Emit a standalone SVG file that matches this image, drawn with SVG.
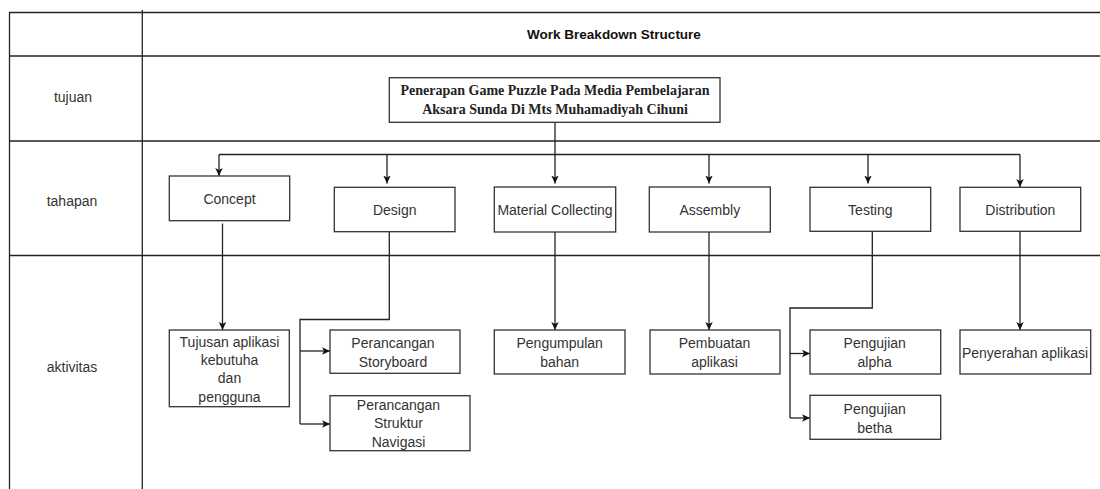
<svg xmlns="http://www.w3.org/2000/svg" width="1100" height="489" viewBox="0 0 1100 489">
<style>
.grid{stroke:#222;stroke-width:1.3;fill:none}
.box{fill:#fff;stroke:#333;stroke-width:1.3}
.lbl{font-family:"Liberation Sans",Arial,sans-serif;font-size:14px;fill:#333;text-anchor:middle;dominant-baseline:central}
.ttl{font-family:"Liberation Sans",Arial,sans-serif;font-size:13.5px;font-weight:bold;fill:#111;text-anchor:middle;dominant-baseline:central}
.main{font-family:"Liberation Serif","Times New Roman",serif;font-size:14px;font-weight:bold;fill:#222;text-anchor:middle;dominant-baseline:central}
.con{stroke:#222;stroke-width:1.3;fill:none}
.arr{stroke:#222;stroke-width:1.3;fill:none;marker-end:url(#ah)}
</style>
<defs>
<marker id="ah" markerUnits="userSpaceOnUse" markerWidth="10" markerHeight="9" refX="8" refY="4.5" orient="auto">
<path d="M0,0.8 L8,4.5 L0,8.2 L2,4.5 Z" fill="#111"/>
</marker>
</defs>
<rect width="1100" height="489" fill="#fff"/>
<g id="table">
<line class="grid" x1="9" y1="12.5" x2="1100" y2="12.5"/>
<line class="grid" x1="9" y1="56" x2="1100" y2="56"/>
<line class="grid" x1="9" y1="141" x2="1100" y2="141"/>
<line class="grid" x1="9" y1="255.5" x2="1100" y2="255.5"/>
<line class="grid" x1="9.5" y1="12.5" x2="9.5" y2="489"/>
<line class="grid" x1="142.3" y1="10" x2="142.3" y2="489"/>
<text class="ttl" x="614" y="34.5">Work Breakdown Structure</text>
<text class="lbl" x="73" y="96.5">tujuan</text>
<text class="lbl" x="72" y="201">tahapan</text>
<text class="lbl" x="72" y="367">aktivitas</text>
</g>
<g id="connectors">
<line class="con" x1="555" y1="122" x2="555" y2="154.5"/>
<line class="con" x1="219" y1="154.5" x2="1020" y2="154.5"/>
<line class="arr" x1="219" y1="154.5" x2="219" y2="176"/>
<line class="arr" x1="387" y1="154.5" x2="387" y2="183.5"/>
<line class="arr" x1="555" y1="154.5" x2="555" y2="183.5"/>
<line class="arr" x1="709" y1="154.5" x2="709" y2="183.5"/>
<line class="arr" x1="868" y1="154.5" x2="868" y2="183.5"/>
<line class="arr" x1="1020" y1="154.5" x2="1020" y2="187"/>
<line class="arr" x1="222.5" y1="223.5" x2="222.5" y2="330"/>
<polyline class="con" points="389.3,232 389.3,319.5 300,319.5 300,424"/>
<line class="arr" x1="300" y1="351" x2="330" y2="351"/>
<line class="arr" x1="300" y1="424" x2="330" y2="424"/>
<line class="arr" x1="555" y1="232" x2="555" y2="330"/>
<line class="arr" x1="709" y1="232" x2="709" y2="330"/>
<polyline class="con" points="872.3,231 872.3,308 790,308 790,418"/>
<line class="arr" x1="790" y1="353.5" x2="810" y2="353.5"/>
<line class="arr" x1="790" y1="418" x2="810" y2="418"/>
<line class="arr" x1="1020" y1="231" x2="1020" y2="330"/>
</g>
<g id="n-main">
<rect class="box" x="389.3" y="77.7" width="330.7" height="44.6"/>
<text class="main" x="555" y="90.7">Penerapan Game Puzzle Pada Media Pembelajaran</text>
<text class="main" x="555" y="109.3">Aksara Sunda Di Mts Muhamadiyah Cihuni</text>
</g>
<g id="n-concept">
<rect class="box" x="169.3" y="176" width="120.4" height="44.7"/>
<text class="lbl" x="229.5" y="198.5">Concept</text>
</g>
<g id="n-design">
<rect class="box" x="334.3" y="187.3" width="120.7" height="44.4"/>
<text class="lbl" x="394.7" y="209.7">Design</text>
</g>
<g id="n-material">
<rect class="box" x="494.3" y="187" width="121.4" height="45"/>
<text class="lbl" x="555" y="209.7">Material Collecting</text>
</g>
<g id="n-assembly">
<rect class="box" x="649.3" y="187" width="121" height="45"/>
<text class="lbl" x="709.8" y="209.7">Assembly</text>
</g>
<g id="n-testing">
<rect class="box" x="810" y="187.3" width="120.7" height="44"/>
<text class="lbl" x="870.3" y="209.5">Testing</text>
</g>
<g id="n-distribution">
<rect class="box" x="960" y="187.3" width="120.7" height="44"/>
<text class="lbl" x="1020.3" y="209.5">Distribution</text>
</g>
<g id="n-tujusan">
<rect class="box" x="169.3" y="330" width="120" height="76.7"/>
<text class="lbl" x="229.5" y="341.7">Tujusan aplikasi</text>
<text class="lbl" x="229.5" y="360">kebutuha</text>
<text class="lbl" x="229.5" y="378.3">dan</text>
<text class="lbl" x="229.5" y="396.6">pengguna</text>
</g>
<g id="n-storyboard">
<rect class="box" x="330" y="330" width="130" height="43.3"/>
<text class="lbl" x="393" y="343.3">Perancangan</text>
<text class="lbl" x="393" y="361.7">Storyboard</text>
</g>
<g id="n-navigasi">
<rect class="box" x="330" y="395.7" width="140" height="55"/>
<text class="lbl" x="398.5" y="405">Perancangan</text>
<text class="lbl" x="398.5" y="423.3">Struktur</text>
<text class="lbl" x="398.5" y="441.6">Navigasi</text>
</g>
<g id="n-pengumpulan">
<rect class="box" x="494.3" y="330" width="130.7" height="44"/>
<text class="lbl" x="559.7" y="343.3">Pengumpulan</text>
<text class="lbl" x="559.7" y="361.7">bahan</text>
</g>
<g id="n-pembuatan">
<rect class="box" x="650" y="330" width="130" height="44"/>
<text class="lbl" x="714.5" y="343.3">Pembuatan</text>
<text class="lbl" x="714.5" y="361.7">aplikasi</text>
</g>
<g id="n-alpha">
<rect class="box" x="810" y="330" width="130.7" height="44"/>
<text class="lbl" x="874.7" y="343.3">Pengujian</text>
<text class="lbl" x="874.7" y="361.7">alpha</text>
</g>
<g id="n-betha">
<rect class="box" x="810" y="395.3" width="130.7" height="44"/>
<text class="lbl" x="874.7" y="409.3">Pengujian</text>
<text class="lbl" x="874.7" y="427.6">betha</text>
</g>
<g id="n-penyerahan">
<rect class="box" x="960" y="330" width="130.7" height="44"/>
<text class="lbl" x="1025" y="352.7">Penyerahan aplikasi</text>
</g>
</svg>
